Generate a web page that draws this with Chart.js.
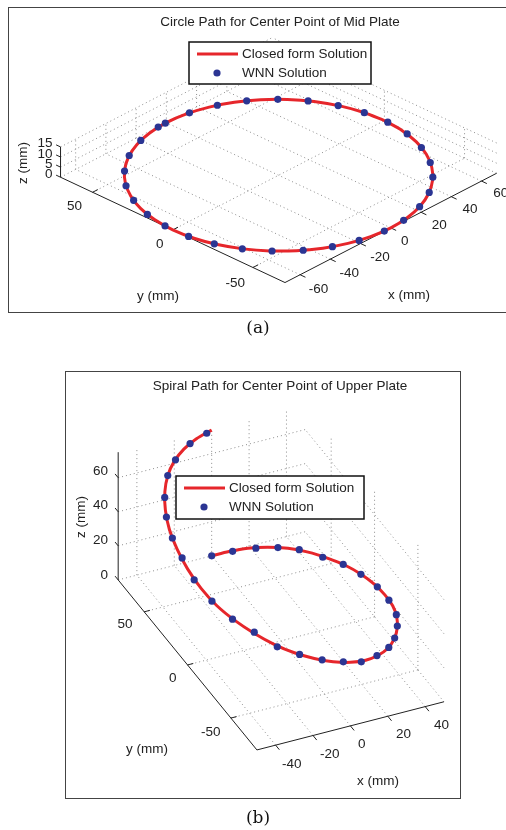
<!DOCTYPE html>
<html>
<head>
<meta charset="utf-8">
<script src="https://cdn.jsdelivr.net/npm/chart.js@4.4.1/dist/chart.umd.min.js"></script>
<style>
  html, body { margin: 0; padding: 0; background: #fff; }
  body { width: 506px; height: 830px; position: relative; overflow: hidden; }
  .frame { position: absolute; border: 1.5px solid #444; box-sizing: border-box; }
  canvas { position: absolute; left: 0; }
  .cap { position: absolute; font-family: "DejaVu Serif", serif; font-size: 17px; color: #111; transform: translate(-50%, -50%); }
</style>
</head>
<body>
<div class="frame" style="left:8px;top:7px;width:546px;height:306px"></div>
<div class="frame" style="left:65px;top:371px;width:396px;height:428px"></div>
<canvas id="chartA" width="506" height="330" style="top:0"></canvas>
<canvas id="chartB" width="506" height="470" style="top:340px"></canvas>
<div class="cap" style="left:258px;top:327px">(a)</div>
<div class="cap" style="left:258px;top:817px">(b)</div>
<script>
// (a) circle path of the mid plate (mm)
const circleX = [70, 68.9, 65.8, 60.6, 53.6, 45, 35, 23.9, 12.2, 0, -12.2, -23.9, -35, -45, -53.6, -60.6, -65.8, -68.9, -70, -68.9, -65.8, -60.6, -53.6, -45, -35, -23.9, -12.2, 0, 12.2, 23.9, 35, 45, 53.6, 60.6, 65.8, 68.9, 70];
const circleY = [0, 12.2, 23.9, 35, 45, 53.6, 60.6, 65.8, 68.9, 70, 68.9, 65.8, 60.6, 53.6, 45, 35, 23.9, 12.2, 0, -12.2, -23.9, -35, -45, -53.6, -60.6, -65.8, -68.9, -70, -68.9, -65.8, -60.6, -53.6, -45, -35, -23.9, -12.2, 0];
const circleZ = [0, 0, 0, 0, 0, 0, 0, 0, 0, 0, 0, 0, 0, 0, 0, 0, 0, 0, 0, 0, 0, 0, 0, 0, 0, 0, 0, 0, 0, 0, 0, 0, 0, 0, 0, 0, 0];
const wnnAX = [-0.7, 13.8, 27.7, 39.9, 50.7, 59.2, 65.5, 69.0, 70.0, 68.2, 63.6, 56.3, 47.3, 35.9, 23.3, 9.1, -4.2, -18.4, -31.0, -42.6, -52.9, -60.8, -66.3, -69.4, -69.8, -67.6, -62.5, -55.1, -45.7, -33.8, -20.0, -5.6];
const wnnAY = [70.0, 68.6, 64.3, 57.5, 48.3, 37.4, 24.6, 11.6, -2.1, -15.9, -29.1, -41.5, -51.6, -60.1, -66.0, -69.4, -69.9, -67.6, -62.8, -55.5, -45.8, -34.7, -22.4, -9.3, 5.0, 18.1, 31.5, 43.2, 53.0, 61.3, 67.1, 69.8];
const wnnAZ = [0, 0, 0, 0, 0, 0, 0, 0, 0, 0, 0, 0, 0, 0, 0, 0, 0, 0, 0, 0, 0, 0, 0, 0, 0, 0, 0, 0, 0, 0, 0, 0];
const xTicksA = [-60, -40, -20, 0, 20, 40, 60];
const yTicksA = [-50, 0, 50];
const zTicksA = [0, 5, 10, 15];
const xLimA = [-70, 70];
const yLimA = [-70, 70];
const zLimA = [0, 15];

// (b) spiral path of the upper plate (mm)
const spiralX = [0, 8.7, 17.1, 25, 32.1, 38.3, 43.3, 47, 49.2, 50, 49.2, 47, 43.3, 38.3, 32.1, 25, 17.1, 8.7, 0, -8.7, -17.1, -25, -32.1, -38.3, -43.3, -47, -49.2, -50, -49.2, -47, -43.3, -38.3, -32.1, -25, -17.1, -8.7, 0];
const spiralY = [80, 78.8, 75.2, 69.3, 61.3, 51.4, 40, 27.4, 13.9, 0, -13.9, -27.4, -40, -51.4, -61.3, -69.3, -75.2, -78.8, -80, -78.8, -75.2, -69.3, -61.3, -51.4, -40, -27.4, -13.9, 0, 13.9, 27.4, 40, 51.4, 61.3, 69.3, 75.2, 78.8, 80];
const spiralZ = [0, 0.8, 2.6, 4.7, 7.0, 9.2, 11.4, 14.0, 16.5, 19.0, 21.6, 24.4, 26.9, 28.8, 30.3, 31.8, 33.6, 35.3, 37.3, 39.4, 41.4, 43.3, 45.3, 47.4, 49.2, 51.0, 53.4, 56.4, 59.2, 61.6, 64.0, 66.3, 68.0, 69.2, 70.5, 72.0, 73.8];
const wnnBX = [0, 10.4, 20.4, 28.7, 35.7, 42.2, 46.6, 49.2, 50.0, 48.5, 43.8, 38.9, 32.7, 25.9, 16.2, 6.1, -3.7, -13.7, -23.0, -31.1, -38.2, -43.8, -47.8, -49.8, -49.8, -48.1, -44.7, -40.1, -32.3, -23.8, -12.8, -2.7];
const wnnBY = [80, 78.3, 73.0, 65.5, 56.0, 42.9, 28.8, 14.0, -3.2, -19.8, -38.5, -50.2, -60.5, -68.4, -75.7, -79.4, -79.8, -76.9, -71.0, -62.7, -51.5, -38.5, -23.4, -7.2, 6.7, 21.6, 35.8, 47.7, 61.0, 70.4, 77.3, 79.9];
const wnnBZ = [0, 0.8, 3.1, 5.8, 8.5, 10.4, 13.7, 16.4, 19.6, 22.5, 27.0, 29.0, 30.1, 31.5, 34.0, 35.5, 38.5, 40.7, 42.8, 44.4, 48.0, 49.1, 51.4, 54.4, 58.6, 60.5, 63.0, 65.8, 68.1, 69.1, 71.2, 72.8];
const xTicksB = [-40, -20, 0, 20, 40];
const yTicksB = [-50, 0, 50];
const zTicksB = [0, 20, 40, 60];
const xLimB = [-50, 50];
const yLimB = [-80, 80];
const zLimB = [0, 75];

const RED = "#e6262b";
const BLUE = "#2b3593";
const FONT = "13.5px 'Liberation Sans', Arial, sans-serif";

// screen vectors of the matlab-like 3d view, canvas px per mm
const panelA = {
  canvas: "chartA", w: 506, h: 330,
  view: { o: [279, 175.5], ex: [1.536, -0.8], ey: [-1.629, -0.771], ez: [0, -2.07] },
  lims: { x: xLimA, y: yLimA, z: zLimA },
  ticks: { x: xTicksA, y: yTicksA, z: zTicksA },
  curve: { x: circleX, y: circleY, z: circleZ },
  wnn: { x: wnnAX, y: wnnAY, z: wnnAZ },
  title: { text: "Circle Path for Center Point of Mid Plate", x: 280, y: 22 },
  legend: { x: 189, y: 42, w: 182, h: 42 },
  xLabelOff: [8, 12], yLabelOff: [-8, 13], zLabelOff: [-5, -3],
  xTitle: [409, 295], yTitle: [158, 296], zTitle: [23, 163],
};
const panelB = {
  canvas: "chartB", w: 506, h: 470,
  view: { o: [281.5, 302], ex: [1.9, -0.49], ey: [-0.881, -1.081], ez: [0, -1.733] },
  lims: { x: xLimB, y: yLimB, z: zLimB },
  ticks: { x: xTicksB, y: yTicksB, z: zTicksB },
  curve: { x: spiralX, y: spiralY, z: spiralZ },
  wnn: { x: wnnBX, y: wnnBY, z: wnnBZ },
  title: { text: "Spiral Path for Center Point of Upper Plate", x: 280, y: 46 },
  legend: { x: 176, y: 136, w: 188, h: 43 },
  xLabelOff: [6, 16], yLabelOff: [-10, 12], zLabelOff: [-8, -5],
  xTitle: [378, 441], yTitle: [147, 409], zTitle: [81, 177],
};

function project(v, x, y, z) {
  return {
    x: v.o[0] + x * v.ex[0] + y * v.ey[0] + z * v.ez[0],
    y: v.o[1] + x * v.ex[1] + y * v.ey[1] + z * v.ez[1],
  };
}

function unit(vec, len) {
  const n = Math.hypot(vec[0], vec[1]);
  return [vec[0] / n * len, vec[1] / n * len];
}

function segment(p, q, style) {
  return Object.assign({ data: [p, q], showLine: true, pointRadius: 0, fill: false }, style);
}

function buildDatasets(P) {
  const v = P.view, T = P.ticks;
  const [x0, x1] = P.lims.x, [y0, y1] = P.lims.y, [z0, z1] = P.lims.z;
  const grid = { borderColor: "#8c8c8c", borderWidth: 1, borderDash: [1, 3], order: 4 };
  const axis = { borderColor: "#222", borderWidth: 1, order: 3 };
  const sets = [];

  // floor grid and the two back walls
  T.x.forEach(t => sets.push(segment(project(v, t, y0, z0), project(v, t, y1, z0), grid)));
  T.y.forEach(t => sets.push(segment(project(v, x0, t, z0), project(v, x1, t, z0), grid)));
  T.x.forEach(t => sets.push(segment(project(v, t, y1, z0), project(v, t, y1, z1), grid)));
  T.z.forEach(t => sets.push(segment(project(v, x0, y1, t), project(v, x1, y1, t), grid)));
  T.y.forEach(t => sets.push(segment(project(v, x1, t, z0), project(v, x1, t, z1), grid)));
  T.z.forEach(t => sets.push(segment(project(v, x1, y0, t), project(v, x1, y1, t), grid)));

  // axis lines
  sets.push(segment(project(v, x0, y0, z0), project(v, x1, y0, z0), axis));
  sets.push(segment(project(v, x0, y1, z0), project(v, x0, y0, z0), axis));
  sets.push(segment(project(v, x0, y1, z0), project(v, x0, y1, z1), axis));

  // tick marks
  const tx = unit([-v.ey[0], -v.ey[1]], 6);
  const ty = unit(v.ex, 6);
  const tz = unit(v.ey, 5);
  const mark = (p, d) => segment(p, { x: p.x + d[0], y: p.y + d[1] }, axis);
  T.x.forEach(t => sets.push(mark(project(v, t, y0, z0), tx)));
  T.y.forEach(t => sets.push(mark(project(v, x0, t, z0), ty)));
  T.z.forEach(t => sets.push(mark(project(v, x0, y1, t), tz)));

  const c = P.curve, w = P.wnn;
  sets.push({
    label: "Closed form Solution",
    data: c.x.map((x, i) => project(v, x, c.y[i], c.z[i])),
    showLine: true, borderColor: RED, borderWidth: 3, pointRadius: 0, tension: 0.3, order: 1,
  });
  sets.push({
    label: "WNN Solution",
    data: w.x.map((x, i) => project(v, x, w.y[i], w.z[i])),
    showLine: false, pointRadius: 3.6, backgroundColor: BLUE, borderWidth: 0, order: 0,
  });
  return sets;
}

function axesText(P) {
  return {
    id: "axesText",
    afterDraw(chart) {
      const ctx = chart.ctx, v = P.view, T = P.ticks, L = P.lims;
      ctx.save();
      ctx.font = FONT;
      ctx.fillStyle = "#222";
      ctx.textBaseline = "middle";

      ctx.textAlign = "left";
      T.x.forEach(t => {
        const p = project(v, t, L.y[0], L.z[0]);
        ctx.fillText(String(t), p.x + P.xLabelOff[0], p.y + P.xLabelOff[1]);
      });
      ctx.textAlign = "right";
      T.y.forEach(t => {
        const p = project(v, L.x[0], t, L.z[0]);
        ctx.fillText(String(t), p.x + P.yLabelOff[0], p.y + P.yLabelOff[1]);
      });
      T.z.forEach(t => {
        const p = project(v, L.x[0], L.y[1], t);
        ctx.fillText(String(t), p.x + P.zLabelOff[0], p.y + P.zLabelOff[1]);
      });

      ctx.textAlign = "center";
      ctx.fillText("x (mm)", P.xTitle[0], P.xTitle[1]);
      ctx.fillText("y (mm)", P.yTitle[0], P.yTitle[1]);
      ctx.save();
      ctx.translate(P.zTitle[0], P.zTitle[1]);
      ctx.rotate(-Math.PI / 2);
      ctx.fillText("z (mm)", 0, 0);
      ctx.restore();
      ctx.fillText(P.title.text, P.title.x, P.title.y);

      // legend box on top of everything
      const g = P.legend;
      ctx.fillStyle = "#fff";
      ctx.fillRect(g.x, g.y, g.w, g.h);
      ctx.strokeStyle = "#111";
      ctx.lineWidth = 1.5;
      ctx.strokeRect(g.x, g.y, g.w, g.h);
      ctx.strokeStyle = RED;
      ctx.lineWidth = 3;
      ctx.beginPath();
      ctx.moveTo(g.x + 8, g.y + 12);
      ctx.lineTo(g.x + 49, g.y + 12);
      ctx.stroke();
      ctx.fillStyle = BLUE;
      ctx.beginPath();
      ctx.arc(g.x + 28, g.y + 31, 3.6, 0, Math.PI * 2);
      ctx.fill();
      ctx.fillStyle = "#222";
      ctx.textAlign = "left";
      ctx.fillText("Closed form Solution", g.x + 53, g.y + 12);
      ctx.fillText("WNN Solution", g.x + 53, g.y + 31);
      ctx.restore();
    },
  };
}

function drawPanel(P) {
  new Chart(document.getElementById(P.canvas), {
    type: "scatter",
    data: { datasets: buildDatasets(P) },
    options: {
      responsive: false,
      animation: false,
      events: [],
      layout: { padding: 0 },
      scales: {
        x: { type: "linear", min: 0, max: P.w, display: false },
        y: { type: "linear", min: 0, max: P.h, reverse: true, display: false },
      },
      plugins: {
        legend: { display: false },
        tooltip: { enabled: false },
        title: { display: false },
      },
    },
    plugins: [axesText(P)],
  });
}

drawPanel(panelA);
drawPanel(panelB);
</script>
</body>
</html>
